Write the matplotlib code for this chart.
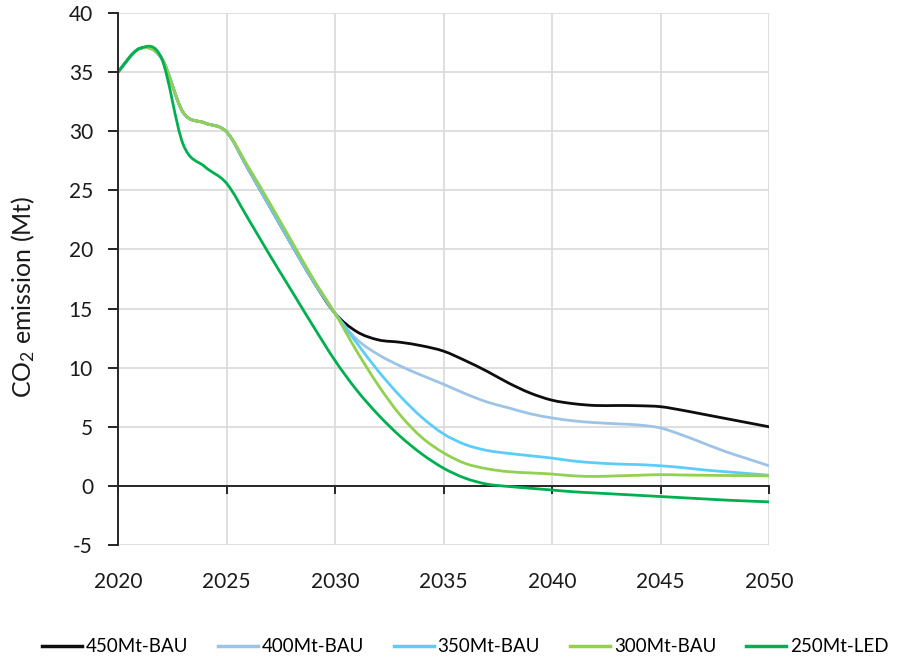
import matplotlib
matplotlib.use("Agg")
import matplotlib.pyplot as plt
from matplotlib.lines import Line2D
from matplotlib.path import Path
from matplotlib.patches import PathPatch

years = list(range(2020, 2051))

s450 = [35.0, 37.0, 36.2, 31.6, 30.7, 29.95, 26.8, 23.6, 20.4, 17.3, 14.6,
        13.05, 12.35, 12.15, 11.85, 11.4, 10.6, 9.7, 8.7, 7.85, 7.25,
        6.95, 6.8, 6.8, 6.78, 6.7, 6.4, 6.05, 5.7, 5.35, 5.0]
s400 = [35.0, 37.0, 36.2, 31.6, 30.7, 29.95, 26.8, 23.6, 20.4, 17.3, 14.6,
        12.4, 11.1, 10.15, 9.35, 8.6, 7.8, 7.1, 6.6, 6.1, 5.75,
        5.5, 5.35, 5.25, 5.15, 4.9, 4.3, 3.6, 2.9, 2.3, 1.7]
s350 = [35.0, 37.0, 36.2, 31.6, 30.7, 29.95, 26.9, 23.7, 20.5, 17.4, 14.6,
        12.1, 9.7, 7.6, 5.8, 4.4, 3.5, 3.0, 2.75, 2.55, 2.35,
        2.1, 1.95, 1.85, 1.8, 1.7, 1.55, 1.35, 1.2, 1.05, 0.9]
s300 = [35.0, 37.0, 36.2, 31.6, 30.7, 29.95, 27.0, 23.9, 20.7, 17.5, 14.6,
        11.4, 8.5, 6.0, 4.1, 2.8, 1.9, 1.45, 1.2, 1.1, 1.0,
        0.85, 0.8, 0.85, 0.9, 0.95, 0.92, 0.9, 0.88, 0.87, 0.85]
s250 = [35.0, 37.0, 36.2, 28.9, 27.0, 25.6, 22.6, 19.5, 16.5, 13.5, 10.6,
        8.1, 6.0, 4.2, 2.7, 1.5, 0.65, 0.15, -0.05, -0.2, -0.35,
        -0.5, -0.6, -0.7, -0.8, -0.9, -1.0, -1.1, -1.2, -1.28, -1.35]

labels = ["450Mt-BAU", "400Mt-BAU", "350Mt-BAU", "300Mt-BAU", "250Mt-LED"]
colors = ["#0d0d0d", "#9dc3e6", "#5bcdfa", "#92d050", "#00b050"]
series = [s450, s400, s350, s300, s250]

x_ticks = [2020, 2025, 2030, 2035, 2040, 2045, 2050]
y_ticks = [-5, 0, 5, 10, 15, 20, 25, 30, 35, 40]

plt.rcParams['font.family'] = ['Lato', 'DejaVu Sans']
plt.rcParams['mathtext.fontset'] = 'custom'
plt.rcParams['mathtext.rm'] = 'Lato'
plt.rcParams['mathtext.it'] = 'Lato'
plt.rcParams['axes.unicode_minus'] = False


def smooth_path(xs, ys):
    """Spreadsheet-style smoothed line: cubic Bezier segments through the data points."""
    n = len(xs)
    verts = [(xs[0], ys[0])]
    codes = [Path.MOVETO]
    for i in range(n - 1):
        x0, y0 = (xs[i - 1], ys[i - 1]) if i > 0 else (xs[i], ys[i])
        x1, y1 = xs[i], ys[i]
        x2, y2 = xs[i + 1], ys[i + 1]
        x3, y3 = (xs[i + 2], ys[i + 2]) if i + 2 < n else (xs[i + 1], ys[i + 1])
        c1 = (x1 + (x2 - x0) / 6.0, y1 + (y2 - y0) / 6.0)
        c2 = (x2 - (x3 - x1) / 6.0, y2 - (y3 - y1) / 6.0)
        verts += [c1, c2, (x2, y2)]
        codes += [Path.CURVE4, Path.CURVE4, Path.CURVE4]
    return Path(verts, codes)


fig = plt.figure(figsize=(8.97, 6.6), dpi=100)
ax = fig.add_axes([118/897, 1 - 545/660, (769 - 118)/897, (545 - 13)/660])

for ys, c in zip(series, colors):
    patch = PathPatch(smooth_path(years, ys), fill=False, edgecolor=c, lw=2.0,
                      capstyle='round', joinstyle='round', zorder=3)
    ax.add_patch(patch)

ax.set_xlim(2020, 2050)
ax.set_ylim(-5, 40)
ax.set_xticks(x_ticks)
ax.set_yticks(y_ticks)
ax.grid(True, color='#d9d9d9', lw=1.2)
ax.set_axisbelow(True)

for side in ['top', 'right']:
    ax.spines[side].set_visible(False)
ax.spines['left'].set_color('#262626')
ax.spines['left'].set_linewidth(1.4)
ax.spines['bottom'].set_position(('data', 0))
ax.spines['bottom'].set_color('#262626')
ax.spines['bottom'].set_linewidth(1.4)
ax.spines['left'].set_zorder(4)
ax.spines['bottom'].set_zorder(2.5)

ax.tick_params(axis='x', direction='out', length=6, width=1.4, color='#262626',
               labelsize=15, pad=56, labelcolor='#1a1a1a')
ax.tick_params(axis='y', direction='out', length=7, width=1.4, color='#262626',
               labelsize=15, pad=11, labelcolor='#1a1a1a')

ax.set_ylabel("CO$_2$ emission (Mt)", fontsize=18, color='#1a1a1a')
ax.yaxis.set_label_coords(-0.125, 0.467)

handles = [Line2D([0], [0], color=c, lw=2.5) for c in colors]
fig.legend(handles, labels, loc='center left', bbox_to_anchor=(42/897, 1 - 647/660),
           ncol=5, frameon=False, fontsize=13.5, handlelength=2.13,
           handletextpad=0.2, columnspacing=1.6, borderpad=0, borderaxespad=0)

fig.savefig("out.png", dpi=100)
